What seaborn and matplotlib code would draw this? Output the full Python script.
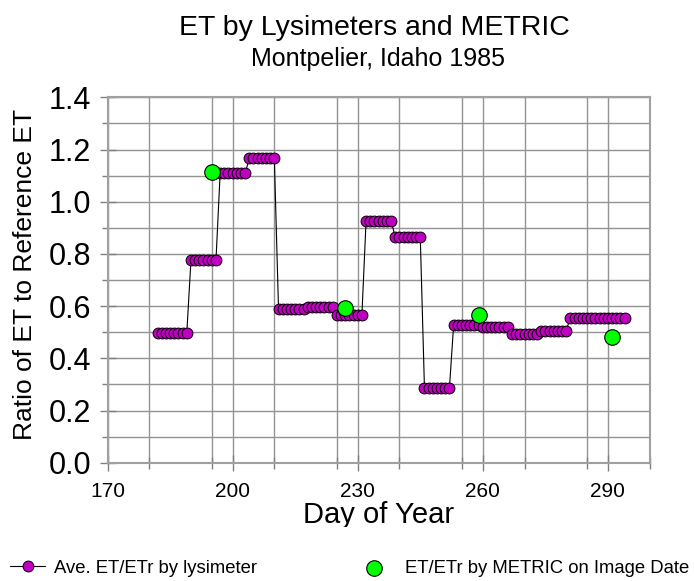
import numpy as np
import pandas as pd
import matplotlib.pyplot as plt
import seaborn as sns
from matplotlib.ticker import MultipleLocator
from matplotlib.transforms import Bbox, TransformedBbox

# daily lysimeter ET/ETr (weekly averages held over each week)
lys_days = list(range(182, 295))
lys_ratio = ([0.497] * 8 + [0.776] * 7 + [1.109] * 7 + [1.166] * 7
             + [0.590] * 7 + [0.597] * 7 + [0.566] * 7 + [0.926] * 7
             + [0.866] * 7 + [0.288] * 7 + [0.527] * 7 + [0.520] * 7
             + [0.494] * 7 + [0.506] * 7 + [0.556] * 14)

# METRIC image dates
metric_days = [195, 227, 259, 291]
metric_ratio = [1.113, 0.593, 0.566, 0.483]

lys = pd.DataFrame({"day": lys_days, "ratio": lys_ratio})
met = pd.DataFrame({"day": metric_days, "ratio": metric_ratio})

sns.set_theme(style="white")
plt.rcParams["font.family"] = ["Liberation Sans", "DejaVu Sans"]
plt.rcParams["text.color"] = "black"
plt.rcParams["axes.labelcolor"] = "black"

fig = plt.figure(figsize=(6.94, 5.81), dpi=100)
ax = fig.add_axes([0.155, 0.2035, 0.781, 0.629])

sns.lineplot(data=lys, x="day", y="ratio", ax=ax, color="black", lw=0.8,
             marker="o", markersize=7.8, markerfacecolor="#c000c0",
             markeredgecolor="black", markeredgewidth=0.7,
             label="Ave. ET/ETr by lysimeter", legend=False, zorder=3)
sns.scatterplot(data=met, x="day", y="ratio", ax=ax, color="#00ff00", s=125,
                edgecolor="black", linewidth=0.8, zorder=4,
                label="ET/ETr by METRIC on Image Date", legend=False)

ax.set_xlim(170, 300)
ax.set_ylim(0, 1.4)
ax.xaxis.set_minor_locator(MultipleLocator(15))
ax.yaxis.set_major_locator(MultipleLocator(0.2))
ax.yaxis.set_minor_locator(MultipleLocator(0.1))
ax.set_xticks([170, 200, 230, 260, 290])
ax.yaxis.set_major_formatter(lambda v, p: f"{v:.1f}")

ax.grid(True, which="both", color="#939393", lw=1.0)
for s in ax.spines.values():
    s.set_color("#a0a0a0")
    s.set_linewidth(1.5)

ax.tick_params(axis="x", which="major", direction="inout", length=12, width=1,
               color="#808080", labelcolor="black", labelsize=15, pad=8, bottom=True)
ax.tick_params(axis="x", which="minor", direction="inout", length=8, width=1,
               color="#808080", bottom=True)
ax.tick_params(axis="y", which="major", direction="inout", length=12, width=1,
               color="#808080", labelcolor="black", labelsize=22, pad=6, left=True)
ax.tick_params(axis="y", which="minor", direction="out", length=4, width=1,
               color="#808080", left=True)

ax.set_ylabel("Ratio of ET to Reference ET", fontsize=19, va="center", ha="center")
ax.yaxis.set_label_coords(-0.152, 0.514)
xl = ax.set_xlabel("Day of Year", fontsize=21, labelpad=0)
xl.set_clip_box(TransformedBbox(Bbox([[0, 1 - 527 / 581], [1, 1]]), fig.transFigure))
xl.set_clip_on(True)

fig.text(0.540, 0.952, "ET by Lysimeters and METRIC", fontsize=20.5,
         ha="center", va="center")
fig.text(0.545, 0.898, "Montpelier, Idaho 1985", fontsize=18,
         ha="center", va="center")

h, l = ax.get_legend_handles_labels()
fig.legend(handles=[h[0]], labels=[l[0]], loc="center left",
           bbox_to_anchor=(0.0144, 0.022), frameon=False, fontsize=13.3,
           handlelength=1.9, handletextpad=0.49, borderpad=0, borderaxespad=0)
fig.legend(handles=[h[1]], labels=[l[1]], loc="center left",
           bbox_to_anchor=(0.5256, 0.022), frameon=False, fontsize=13.3,
           handlelength=1.0, handletextpad=1.2, borderpad=0, borderaxespad=0)

fig.savefig("out.png", dpi=100)
